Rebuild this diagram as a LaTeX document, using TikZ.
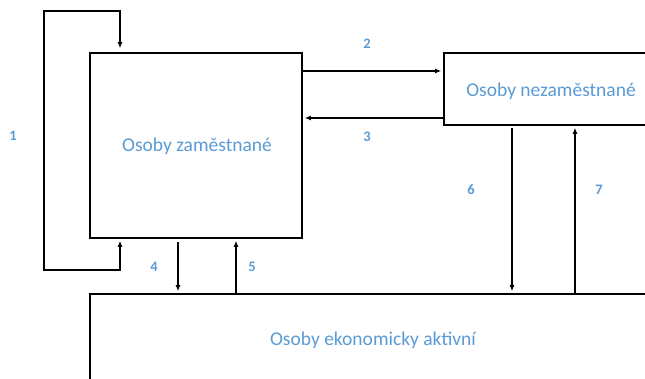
\documentclass[tikz,border=0pt]{standalone}
\usepackage{fontspec}
\setmainfont{Carlito}[BoldFont={Carlito Bold}]
\usetikzlibrary{arrows.meta}
\definecolor{txtblue}{HTML}{5B9BD5}
\begin{document}
\begin{tikzpicture}[x=1pt,y=-1pt,
  box/.style={draw=black,line width=1.6pt,fill=white,inner sep=0pt},
  lbl/.style={text=txtblue,font=\fontsize{19.5}{22}\selectfont},
  arr/.style={line width=1.4pt,-{Latex[length=6pt,width=5pt]},shorten >=2pt},
  darr/.style={line width=1.4pt,{Latex[length=6pt,width=5pt]}-{Latex[length=6pt,width=5pt]},shorten >=4pt,shorten <=2pt},
  num/.style={text=txtblue,font=\fontsize{14.5}{16}\selectfont\bfseries}]
\useasboundingbox (0,0) rectangle (645,378);
\begin{scope}
\clip (0,0) rectangle (645,378);
\node[box,minimum width=212pt,minimum height=185pt] (zam) at (196,145.5) {};
\node[box,minimum width=220pt,minimum height=72pt] (nez) at (554,89) {};
\node[box,minimum width=570pt,minimum height=95pt] (akt) at (375,341.5) {};
\end{scope}
\node[lbl] (tzam) at (197,146) {Osoby zaměstnané};
\node[lbl] (tnez) at (551,91) {Osoby nezaměstnané};
\node[lbl] (takt) at (373,340) {Osoby ekonomicky aktivní};
% connectors
\coordinate (l1) at (120,270);
\coordinate (l2) at (44,270);
\coordinate (l3) at (44,11);
\coordinate (l4) at (120,11);
\draw[darr] (zam.south -| l1) -- (l1) -- (l2) -- (l3) -- (l4) -- (zam.north -| l4);
\draw[arr] (zam.east |- 0,71) -- (nez.west |- 0,71);
\draw[arr] (nez.west |- 0,118) -- (zam.east |- 0,118);
\draw[arr] (zam.south -| 178,0) ++(0,3) -- (akt.north -| 178,0);
\draw[arr] (akt.north -| 236,0) -- (zam.south -| 236,0);
\draw[arr] (nez.south -| 512,0) ++(0,2) -- (akt.north -| 512,0);
\draw[arr] (akt.north -| 575,0) -- (nez.south -| 575,0);
% labels
\node[num] (n1) at (13,136) {1};
\node[num] (n2) at (367,44) {2};
\node[num] (n3) at (367,137) {3};
\node[num] (n4) at (154,267) {4};
\node[num] (n5) at (252,267) {5};
\node[num] (n6) at (471,190) {6};
\node[num] (n7) at (599,190) {7};
\end{tikzpicture}
\end{document}
